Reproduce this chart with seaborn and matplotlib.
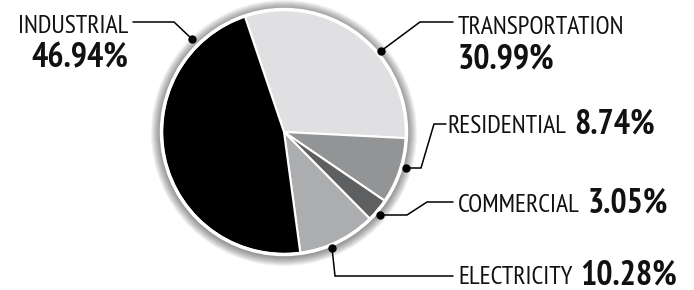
import matplotlib
matplotlib.use("Agg")
import matplotlib.pyplot as plt
import seaborn as sns
from matplotlib.patches import Circle

# ---- data ----
categories = ["TRANSPORTATION", "RESIDENTIAL", "COMMERCIAL", "ELECTRICITY", "INDUSTRIAL"]
shares = [30.99, 8.74, 3.05, 10.28, 46.94]
pct_labels = ["30.99%", "8.74%", "3.05%", "10.28%", "46.94%"]
colors = ["#e0e0e2", "#939496", "#5e5f61", "#acadaf", "#000000"]

sns.set_theme(style="white")
plt.rcParams["font.family"] = ["PT Sans Narrow", "Roboto Condensed", "DejaVu Sans"]

W, H = 694, 290
fig = plt.figure(figsize=(W / 100, H / 100), dpi=100)
ax = fig.add_axes([0, 0, 1, 1])

cx, cy, r = 284, H - 132, 122

# shadow glow
for k in range(11, 0, -1):
    ax.add_patch(Circle((cx, cy - 1), r + k, color="#000000", alpha=0.05, lw=0, zorder=1))

wedges, _ = ax.pie(shares, colors=colors, startangle=108.7, counterclock=False,
                   center=(cx, cy), radius=r,
                   wedgeprops=dict(edgecolor="white", linewidth=1.5))
for w in wedges:
    w.set_zorder(2)
ax.add_patch(Circle((cx, cy), r + 0.5, fill=False, edgecolor="white", lw=2.5, zorder=3))

ax.set_xlim(0, W)
ax.set_ylim(0, H)
ax.set_aspect("equal")
ax.axis("off")

def Y(y):
    return H - y

# leader lines: pixel points, first is the dot
leaders = {
    "INDUSTRIAL": [(192, 39), (174, 22), (133, 22)],
    "TRANSPORTATION": [(381, 51), (420, 22), (453, 22)],
    "RESIDENTIAL": [(406, 168), (421, 168), (434, 124), (446, 124)],
    "COMMERCIAL": [(380, 215), (407, 215), (427, 202), (453, 202)],
    "ELECTRICITY": [(332, 248), (335, 276), (453, 276)],
}
for name, pts in leaders.items():
    xs = [p[0] for p in pts]
    ys = [Y(p[1]) for p in pts]
    ax.plot(xs, ys, color="black", lw=1.1, zorder=5, solid_joinstyle="miter")
    ax.plot(xs[0], ys[0], "o", color="black", ms=5, zorder=6)

name_size = 18.5
pct_size = 24.5
tc = "#111111"

ax.text(128, Y(33), "INDUSTRIAL", ha="right", va="baseline", fontsize=name_size, color=tc)
ax.text(128, Y(67), pct_labels[4], ha="right", va="baseline", fontsize=pct_size,
        fontweight="bold", color=tc)
ax.text(458, Y(34), "TRANSPORTATION", ha="left", va="baseline", fontsize=name_size, color=tc)
ax.text(458, Y(68), pct_labels[0], ha="left", va="baseline", fontsize=pct_size,
        fontweight="bold", color=tc)

fig.canvas.draw()
renderer = fig.canvas.get_renderer()
inline = [("RESIDENTIAL", 447, 133, 1), ("COMMERCIAL", 458, 212, 2), ("ELECTRICITY", 458, 284, 3)]
for name, x, yb, idx in inline:
    t = ax.text(x, Y(yb), name, ha="left", va="baseline", fontsize=name_size, color=tc)
    bb = t.get_window_extent(renderer)
    ax.text(bb.x1 + 8, Y(yb), pct_labels[idx], ha="left", va="baseline", fontsize=pct_size,
            fontweight="bold", color=tc)

fig.savefig("out.png", dpi=100, facecolor="white")
